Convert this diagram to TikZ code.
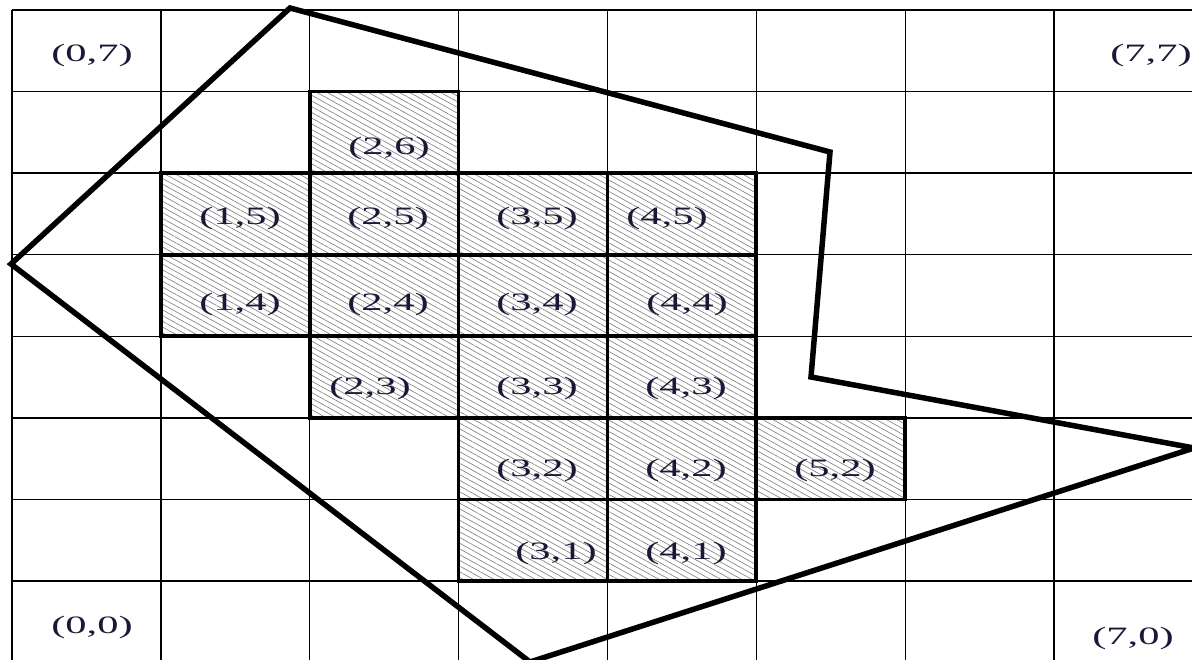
\documentclass[tikz,border=0pt]{standalone}
\usepackage{fontspec}
\setmainfont{Liberation Serif}
\usetikzlibrary{patterns.meta}
\definecolor{txt}{RGB}{25,25,55}
\definecolor{hatch}{RGB}{130,130,130}
\newcommand\wide[1]{\scalebox{1.7}[1.0]{#1}}
\tikzset{
  gridline/.style={line width=1.3pt, black},
  cellborder/.style={line width=3.8pt, black},
  hatched/.style={pattern={Lines[angle=-29,distance=5pt,line width=0.65pt]}, pattern color=hatch},
  outline/.style={line width=5.5pt, black, line join=miter},
  lbl/.style={font=\fontsize{25}{25}\selectfont, text=txt, inner sep=0pt}
}
\begin{document}
\begin{tikzpicture}[x=1pt,y=-1pt]
  \clip (0,0) rectangle (1192,660);
  \fill[white] (0,0) rectangle (1192,660);
  % grid
  \foreach \i in {0,...,8}
    \draw[gridline] ({12+148.86*\i},10) -- ({12+148.86*\i},700);
  \foreach \k in {0,...,8}
    \draw[gridline] (12,{10+81.57*\k}) -- (1250,{10+81.57*\k});
  % shaded cells
  \foreach \i/\j in {2/6,1/5,2/5,3/5,4/5,1/4,2/4,3/4,4/4,2/3,3/3,4/3,3/2,4/2,5/2,3/1,4/1}{
    \path[hatched] ({12+148.86*\i},{10+81.57*(7-\j)}) rectangle ++(148.86,81.57);
  }
  \foreach \i/\j in {2/6,1/5,2/5,3/5,4/5,1/4,2/4,3/4,4/4,2/3,3/3,4/3,3/2,4/2,5/2,3/1,4/1}{
    \draw[cellborder] ({12+148.86*\i},{10+81.57*(7-\j)}) rectangle ++(148.86,81.57);
  }
  % labels
  \node[lbl] (l07) at (92,55) {\wide{(0,7)}};
  \node[lbl] (l77) at (1151,55) {\wide{(7,7)}};
  \node[lbl] (l00) at (92,627) {\wide{(0,0)}};
  \node[lbl] (l70) at (1133,638) {\wide{(7,0)}};
  \node[lbl] (l26) at (389,148) {\wide{(2,6)}};
  \node[lbl] (l15) at (240,218) {\wide{(1,5)}};
  \node[lbl] (l25) at (388,218) {\wide{(2,5)}};
  \node[lbl] (l35) at (537,218) {\wide{(3,5)}};
  \node[lbl] (l45) at (667,218) {\wide{(4,5)}};
  \node[lbl] (l14) at (240,304) {\wide{(1,4)}};
  \node[lbl] (l24) at (388,304) {\wide{(2,4)}};
  \node[lbl] (l34) at (537,304) {\wide{(3,4)}};
  \node[lbl] (l44) at (687,304) {\wide{(4,4)}};
  \node[lbl] (l23) at (370,388) {\wide{(2,3)}};
  \node[lbl] (l33) at (537,388) {\wide{(3,3)}};
  \node[lbl] (l43) at (686,388) {\wide{(4,3)}};
  \node[lbl] (l32) at (537,470) {\wide{(3,2)}};
  \node[lbl] (l42) at (686,470) {\wide{(4,2)}};
  \node[lbl] (l52) at (835,470) {\wide{(5,2)}};
  \node[lbl] (l31) at (556,553) {\wide{(3,1)}};
  \node[lbl] (l41) at (686,553) {\wide{(4,1)}};
  % polygon
  \draw[outline] (290,8) -- (830,152) -- (811,377) -- (1194,448) -- (530,662) -- (11,264) -- cycle;
\end{tikzpicture}
\end{document}
